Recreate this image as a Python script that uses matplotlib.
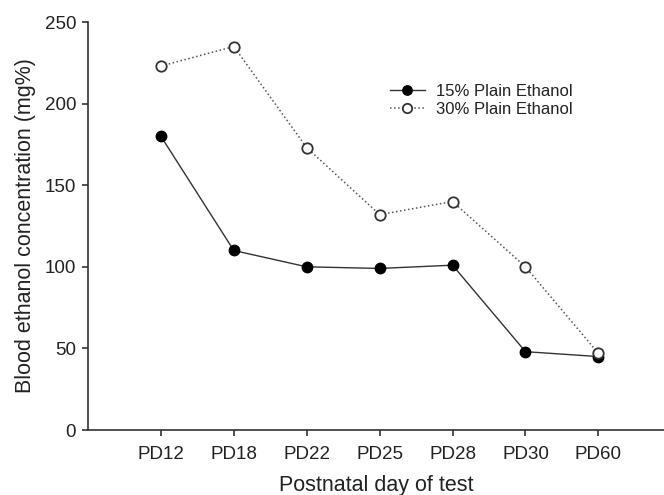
import matplotlib
matplotlib.use("Agg")
import matplotlib.pyplot as plt

# data
days = ["PD12", "PD18", "PD22", "PD25", "PD28", "PD30", "PD60"]
plain15 = [180, 110, 100, 99, 101, 48, 45]
plain30 = [223, 235, 173, 132, 140, 100, 47]

plt.rcParams['font.family'] = ['Liberation Sans', 'DejaVu Sans']
txt = '#222222'

fig = plt.figure(figsize=(6.64, 4.95), dpi=100)
ax = fig.add_axes([0.1325, 0.1313, 0.8675, 0.8242])

x = list(range(len(days)))
ax.plot(x, plain15, color='#333333', lw=1.0, marker='o', ms=7.5,
        mfc='black', mec='black', label='15% Plain Ethanol', zorder=3)
ax.plot(x, plain30, color='#555555', lw=1.1, ls=':', marker='o', ms=7.5,
        mfc='white', mec='#333333', mew=1.3, label='30% Plain Ethanol', zorder=4)

ax.set_xlim(-1.0, 6.9)
ax.set_ylim(0, 250)
ax.set_xticks(x)
ax.set_xticklabels(days)
ax.set_yticks([0, 50, 100, 150, 200, 250])

for s in ['top', 'right']:
    ax.spines[s].set_visible(False)
for s in ['left', 'bottom']:
    ax.spines[s].set_color('#333333')
    ax.spines[s].set_linewidth(1.2)
ax.tick_params(direction='out', length=4.5, width=1.2, colors='#333333',
               labelsize=13.5, labelcolor=txt, pad=4)
ax.tick_params(axis='x', pad=7)

ax.set_xlabel('Postnatal day of test', fontsize=15.5, color=txt, labelpad=9)
ax.set_ylabel('Blood ethanol concentration (mg%)', fontsize=15.5, color=txt, labelpad=6)

ax.legend(loc='upper left', bbox_to_anchor=(0.524, 0.848), frameon=False,
          fontsize=12, handlelength=2.1, handletextpad=0.7, labelspacing=0.15,
          borderpad=0, borderaxespad=0, labelcolor=txt, markerscale=0.9)

fig.savefig('out.png', dpi=100)
